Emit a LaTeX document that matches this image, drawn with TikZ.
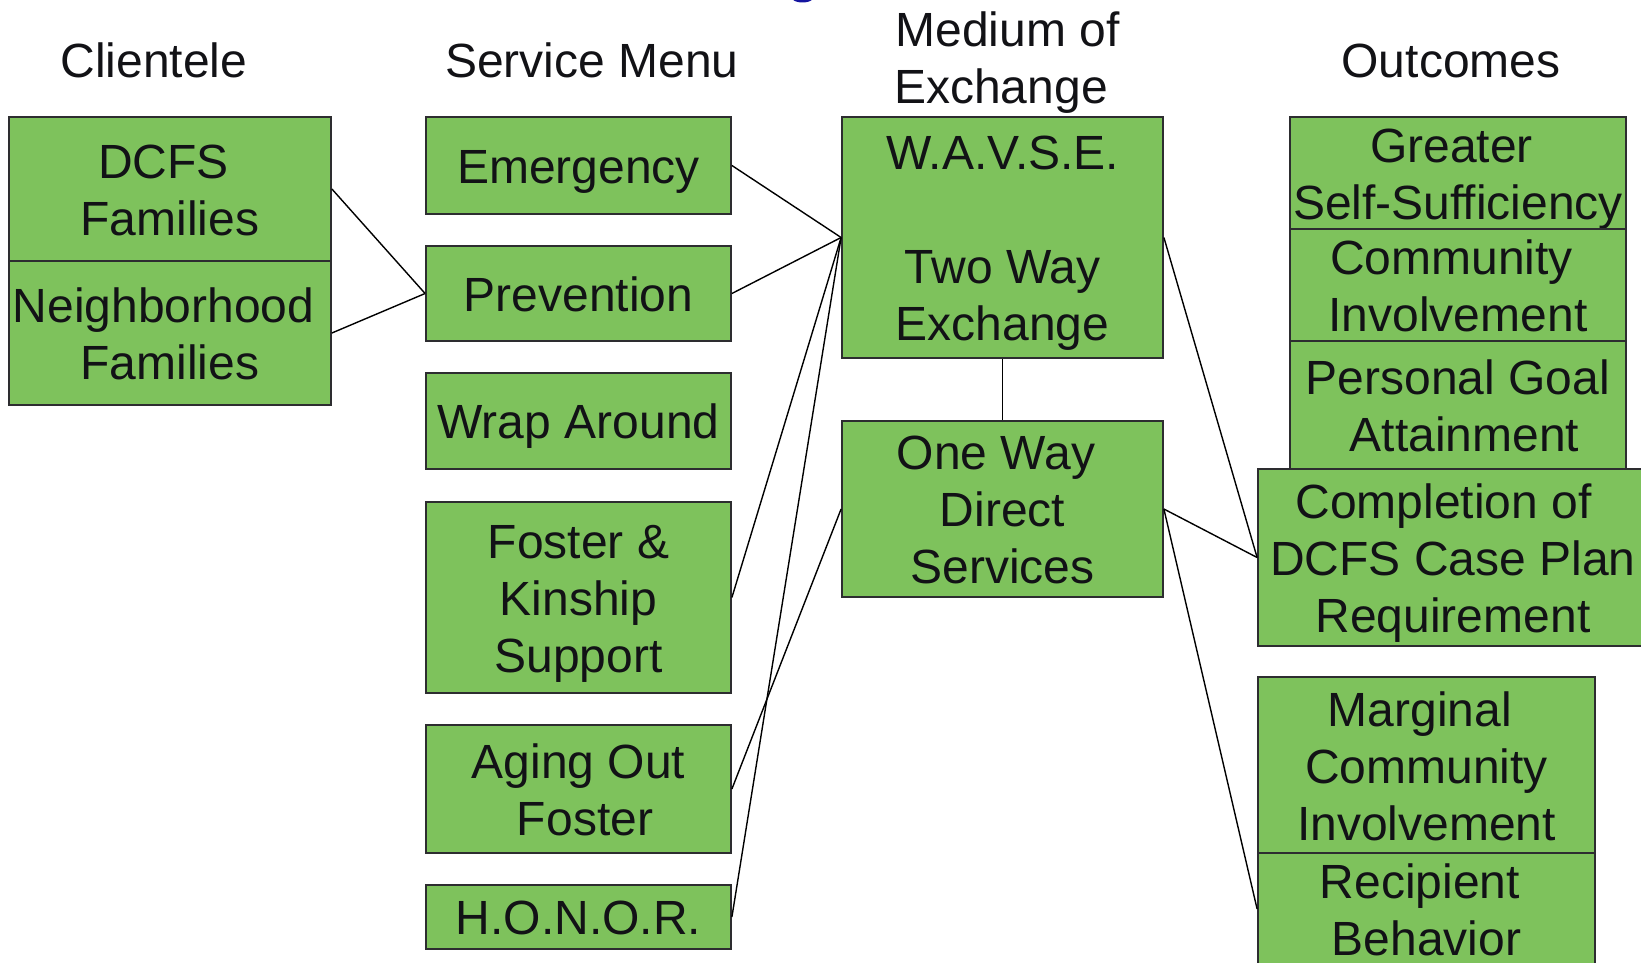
\documentclass[tikz,border=0pt]{standalone}
\usepackage{fontspec}
\setmainfont{Liberation Sans}
\definecolor{boxgreen}{RGB}{126,194,92}
\definecolor{boxline}{RGB}{45,45,48}
\definecolor{txtcol}{RGB}{18,18,22}
\definecolor{titleblue}{RGB}{20,20,160}
\newcommand\bs{\rule[-10pt]{0pt}{55pt}}
\newcommand\tsp{\hspace*{13pt}}
\begin{document}
\begin{tikzpicture}[x=1pt,y=-1pt,
  lbl/.style={inner sep=0pt, align=center, text=txtcol, font=\fontsize{48}{57}\selectfont},
  box/.style={lbl, draw=boxline, line width=1.8pt, fill=boxgreen},
  link/.style={draw=black, line width=1.4pt}]
\useasboundingbox (0,0) rectangle (1641,963);
% fragment of cut-off title
\fill[titleblue] (802.5,-1.5) ellipse (10 and 4);
% headers
\node[lbl] (hcli) at (154,60.5) {\bs Clientele\bs};
\node[lbl] (hser) at (592,60.5) {\bs Service Menu\bs};
\node[lbl] (hmed) at (1001,57.5) {\bs\tsp Medium of\\Exchange\bs};
\node[lbl] (hout) at (1451,60.5) {\bs Outcomes\bs};
% clientele
\node[box, minimum width=322, minimum height=144] (dcfs) at (170,189) {\bs DCFS\tsp\\Families\bs};
\node[box, minimum width=322, minimum height=144] (nbh) at (170,333) {\bs Neighborhood\tsp\\Families\bs};
% service menu
\node[box, minimum width=305, minimum height=97] (emerg) at (578.5,165.5) {\bs Emergency\bs};
\node[box, minimum width=305, minimum height=95] (prev) at (578.5,293.5) {\bs Prevention\bs};
\node[box, minimum width=305, minimum height=96] (wrap) at (578.5,421) {\bs Wrap Around\bs};
\node[box, minimum width=305, minimum height=191] (foster) at (578.5,597.5) {\bs Foster \&\\Kinship\\Support\bs};
\node[box, minimum width=305, minimum height=128] (aging) at (578.5,789) {\bs Aging Out\\\tsp Foster\bs};
\node[box, minimum width=305, minimum height=64] (honor) at (578.5,917) {\bs H.O.N.O.R.\bs};
% medium of exchange
\node[box, minimum width=321, minimum height=241] (wavse) at (1002.5,237.5) {\bs W.A.V.S.E.\\\mbox{}\\Two Way\tsp\\Exchange\bs};
\node[box, minimum width=321, minimum height=176] (oneway) at (1002.5,509) {\bs One Way\tsp\\Direct\\Services\bs};
% outcomes
\node[box, minimum width=336, minimum height=112] (greater) at (1458,173) {\bs Greater\tsp\\Self-Sufficiency\bs};
\node[box, minimum width=336, minimum height=112] (comm) at (1458,285) {\bs Community\tsp\\Involvement\bs};
\node[box, minimum width=336, minimum height=128] (pers) at (1458,405) {\bs Personal Goal\\\tsp Attainment\bs};
\node[box, minimum width=390, minimum height=177] (compl) at (1453,557.5) {\bs Completion of\tsp\hspace*{6pt}\\DCFS Case Plan\\Requirement\bs};
\node[box, minimum width=337, minimum height=177] (marg) at (1426.5,765.5) {\bs Marginal\tsp\\Community\tsp\\Involvement\bs};
\node[box, minimum width=337, minimum height=110] (recip) at (1426.5,909) {\bs Recipient\tsp\\Behavior\bs};
% connectors
\draw[link] (dcfs.east) -- (prev.west);
\draw[link] (nbh.east) -- (prev.west);
\draw[link] (emerg.east) -- (wavse.west);
\draw[link] (prev.east) -- (wavse.west);
\draw[link] (foster.east) -- (wavse.west);
\draw[link] (honor.east) -- (wavse.west);
\draw[link] (aging.east) -- (oneway.west);
\draw[link] (wavse.south) -- (oneway.north);
\draw[link] (wavse.east) -- (compl.west);
\draw[link] (oneway.east) -- (compl.west);
\draw[link] (oneway.east) -- (recip.west);
\end{tikzpicture}
\end{document}
